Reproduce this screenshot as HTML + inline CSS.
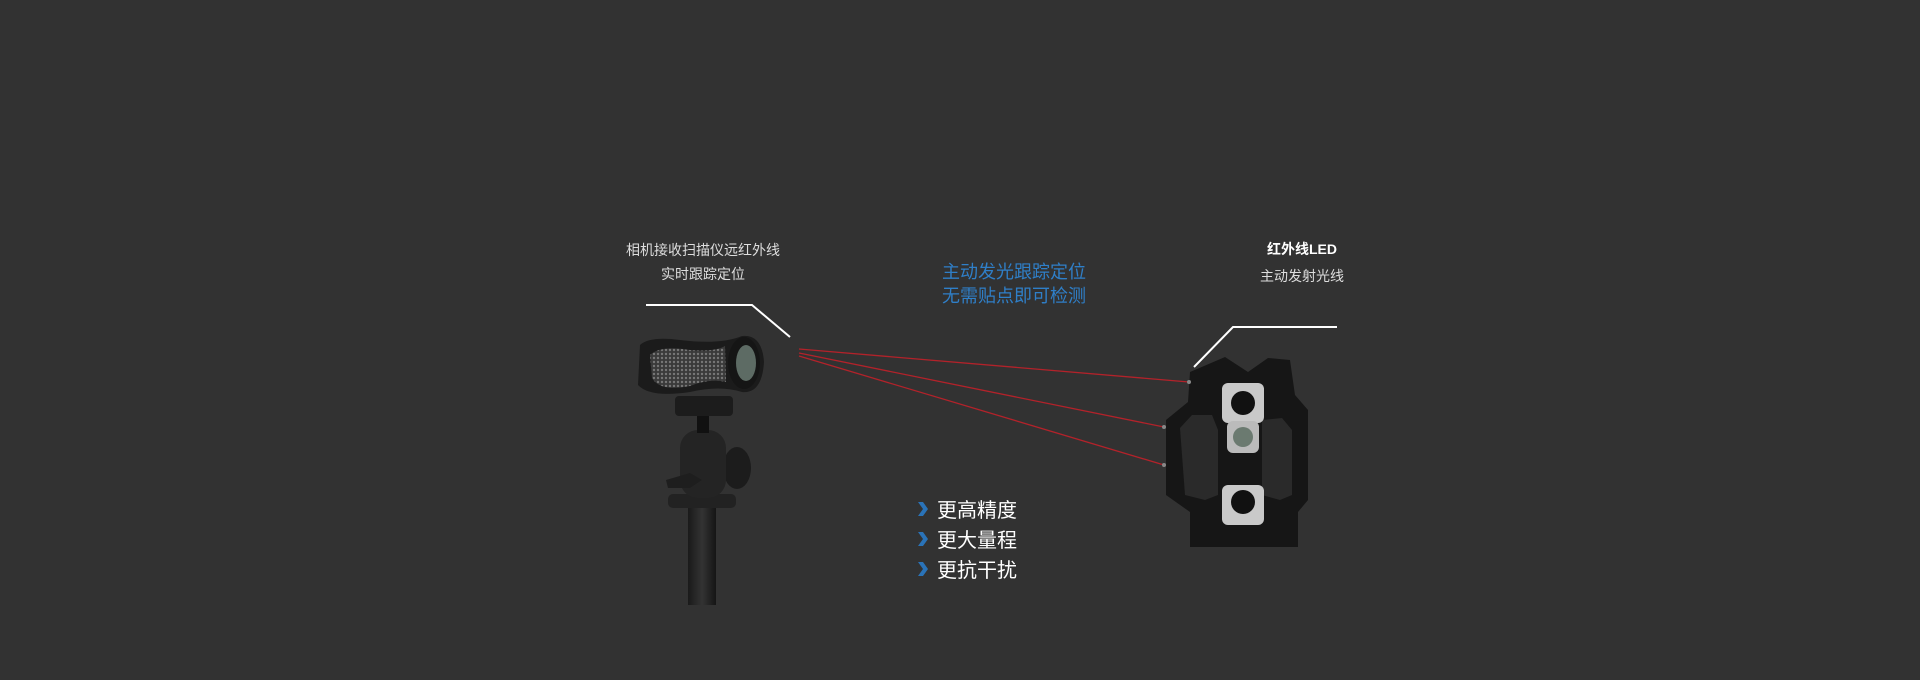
<!DOCTYPE html>
<html><head><meta charset="utf-8"><style>
html,body{margin:0;padding:0;background:#323232;}
body{width:1920px;height:680px;overflow:hidden;position:relative;font-family:"Liberation Sans","Noto Sans CJK SC",sans-serif;}
.t{position:absolute;white-space:nowrap;text-align:center;transform:translateX(-50%);}
</style></head><body>
<svg width="1920" height="680" style="position:absolute;left:0;top:0">
<defs>
<pattern id="mesh" width="4" height="4" patternUnits="userSpaceOnUse"><rect width="4" height="4" fill="#3a3a3a"/><circle cx="2" cy="2" r="1.2" fill="#777"/></pattern>
<linearGradient id="pole" x1="0" x2="1"><stop offset="0" stop-color="#1a1a1a"/><stop offset="0.5" stop-color="#333"/><stop offset="1" stop-color="#151515"/></linearGradient>
</defs>
<!-- leaders -->
<polyline points="646,305 752,305 790,337" fill="none" stroke="#fff" stroke-width="2"/>
<polyline points="1337,327 1233,327 1194,367" fill="none" stroke="#fff" stroke-width="2"/>
<!-- camera stand -->
<rect x="688" y="505" width="28" height="100" fill="url(#pole)"/>
<rect x="668" y="494" width="68" height="14" rx="5" fill="#222"/>
<ellipse cx="737" cy="468" rx="14" ry="21" fill="#1c1c1c"/>
<rect x="680" y="430" width="46" height="68" rx="18" fill="#242424"/>
<path d="M666,480 L690,473 L702,480 L690,488 L668,488 Z" fill="#1e1e1e"/>
<rect x="697" y="415" width="12" height="18" fill="#111"/>
<rect x="675" y="396" width="58" height="20" rx="4" fill="#1c1c1c"/>
<!-- camera body -->
<path d="M640,345 Q650,336 680,340 Q720,345 742,336 Q762,334 764,362 Q762,394 742,392 Q720,385 690,392 Q650,398 638,385 Z" fill="#1b1b1b"/>
<path d="M650,355 Q660,345 690,350 Q715,352 725,346 L726,382 Q710,378 690,386 Q660,392 652,378 Z" fill="url(#mesh)"/>
<ellipse cx="744" cy="363" rx="16" ry="26" fill="#151515"/>
<ellipse cx="746" cy="363" rx="10" ry="18" fill="#5d6b64"/>
<!-- red lines -->
<g stroke="#b3222a" stroke-width="1.3" fill="none">
<line x1="799" y1="349" x2="1189" y2="382"/>
<line x1="799" y1="353" x2="1164" y2="427"/>
<line x1="799" y1="356" x2="1164" y2="465"/>
</g>
<!-- scanner -->
<path d="M1190,372 L1225,357 L1248,372 L1268,358 L1290,360 L1295,395 L1308,410 L1308,500 L1298,512 L1298,547 L1190,547 L1190,512 L1166,495 L1166,420 L1188,402 Z" fill="#161616"/>
<path d="M1180,428 L1192,415 L1212,415 L1218,430 L1218,495 L1205,500 L1185,495 Z" fill="#2a2a2a"/>
<path d="M1262,420 L1282,418 L1292,430 L1292,495 L1280,500 L1262,495 Z" fill="#2a2a2a"/>
<rect x="1222" y="383" width="42" height="40" rx="6" fill="#c9c9c9"/>
<circle cx="1243" cy="403" r="12" fill="#111"/>
<rect x="1227" y="421" width="32" height="32" rx="6" fill="#bbb"/>
<circle cx="1243" cy="437" r="10" fill="#6b7a70"/>
<rect x="1222" y="485" width="42" height="40" rx="6" fill="#c9c9c9"/>
<circle cx="1243" cy="502" r="12" fill="#111"/>
<circle cx="1189" cy="382" r="2" fill="#888"/><circle cx="1164" cy="427" r="2" fill="#888"/><circle cx="1164" cy="465" r="2" fill="#888"/>
<!-- chevrons -->
<g fill="#2a73b8"><path d="M918,502 L923,502 L928,509 L923,516 L918,516 L923,509Z"/><path d="M918,532 L923,532 L928,539 L923,546 L918,546 L923,539Z"/><path d="M918,562 L923,562 L928,569 L923,576 L918,576 L923,569Z"/></g>
</svg>
<div class="t" style="left:703px;top:241px;font-size:14px;color:#ddd;line-height:18px">相机接收扫描仪远红外线</div>
<div class="t" style="left:703px;top:265px;font-size:14px;color:#ddd;line-height:18px">实时跟踪定位</div>
<div class="t" style="left:1014px;top:261px;font-size:18px;color:#2f7fc8;line-height:23px">主动发光跟踪定位</div>
<div class="t" style="left:1014px;top:285px;font-size:18px;color:#2f7fc8;line-height:23px">无需贴点即可检测</div>
<div class="t" style="left:1302px;top:240px;font-size:14px;color:#fff;font-weight:bold;line-height:18px">红外线LED</div>
<div class="t" style="left:1302px;top:267px;font-size:14px;color:#ddd;line-height:18px">主动发射光线</div>
<div style="position:absolute;left:937px;top:496px;font-size:20px;color:#fff;line-height:30px">更高精度<br>更大量程<br>更抗干扰</div>
</body></html>
